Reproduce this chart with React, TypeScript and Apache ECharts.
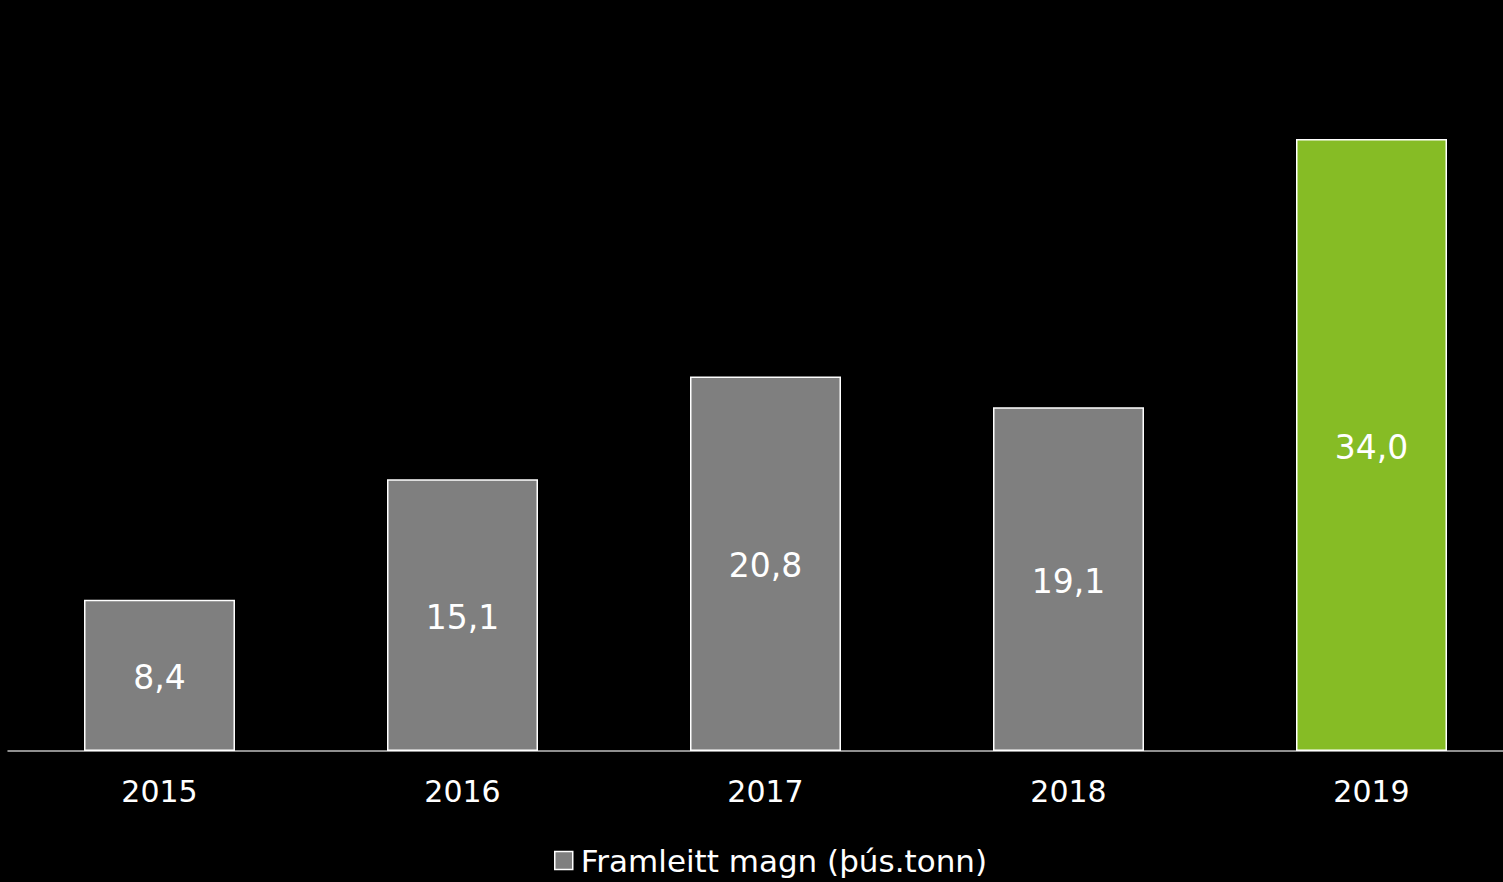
import React, { useEffect, useRef } from "react";
import * as echarts from "echarts";

const categories = ["2015", "2016", "2017", "2018", "2019"];
const values = [8.4, 15.1, 20.8, 19.1, 34.0];
const seriesName = "Framleitt magn (þús.tonn)";
const FONT = "'DejaVu Sans', Verdana, sans-serif";

export default function App() {
  const ref = useRef<HTMLDivElement>(null);
  useEffect(() => {
    document.body.style.margin = "0";
    document.body.style.background = "#000";
    const chart = echarts.init(ref.current!, null, { renderer: "svg" });
    chart.setOption({
      animation: false,
      backgroundColor: "#000000",
      grid: { left: 8, top: 31, width: 1515, height: 720, containLabel: false },
      legend: {
        data: [seriesName],
        top: 840,
        left: 549,
        icon: "rect",
        itemWidth: 18,
        itemHeight: 18,
        itemGap: 7,
        textStyle: { color: "#ffffff", fontSize: 31, fontFamily: FONT, padding: [0, 0, 0, 3] },
        itemStyle: { color: "#7f7f7f", borderColor: "#ffffff", borderWidth: 1.5 },
      },
      xAxis: {
        type: "category",
        data: categories,
        axisLine: { show: true, lineStyle: { color: "#bfbfbf", width: 1.5 } },
        axisTick: { show: false },
        axisLabel: { color: "#ffffff", fontSize: 30, fontFamily: FONT, margin: 25 },
      },
      yAxis: {
        type: "value",
        min: 0,
        max: 40,
        show: false,
        splitLine: { show: false },
      },
      series: [
        {
          name: seriesName,
          type: "bar",
          barWidth: 151,
          data: values.map((v, i) => ({
            value: v,
            itemStyle: {
              color: i === values.length - 1 ? "#86bc25" : "#7f7f7f",
            },
          })),
          itemStyle: { color: "#7f7f7f", borderColor: "#ffffff", borderWidth: 1.5 },
          label: {
            show: true,
            position: "inside",
            offset: [0, 2],
            color: "#ffffff",
            fontSize: 33,
            fontFamily: FONT,
            formatter: (p: any) => Number(p.value).toFixed(1).replace(".", ","),
          },
        },
      ],
    });
    return () => chart.dispose();
  }, []);
  return (
    <div style={{ position: "absolute", left: 0, top: 0, width: 1503, height: 882, overflow: "hidden", background: "#000" }}>
      <div ref={ref} style={{ width: 1530, height: 882 }} />
    </div>
  );
}
